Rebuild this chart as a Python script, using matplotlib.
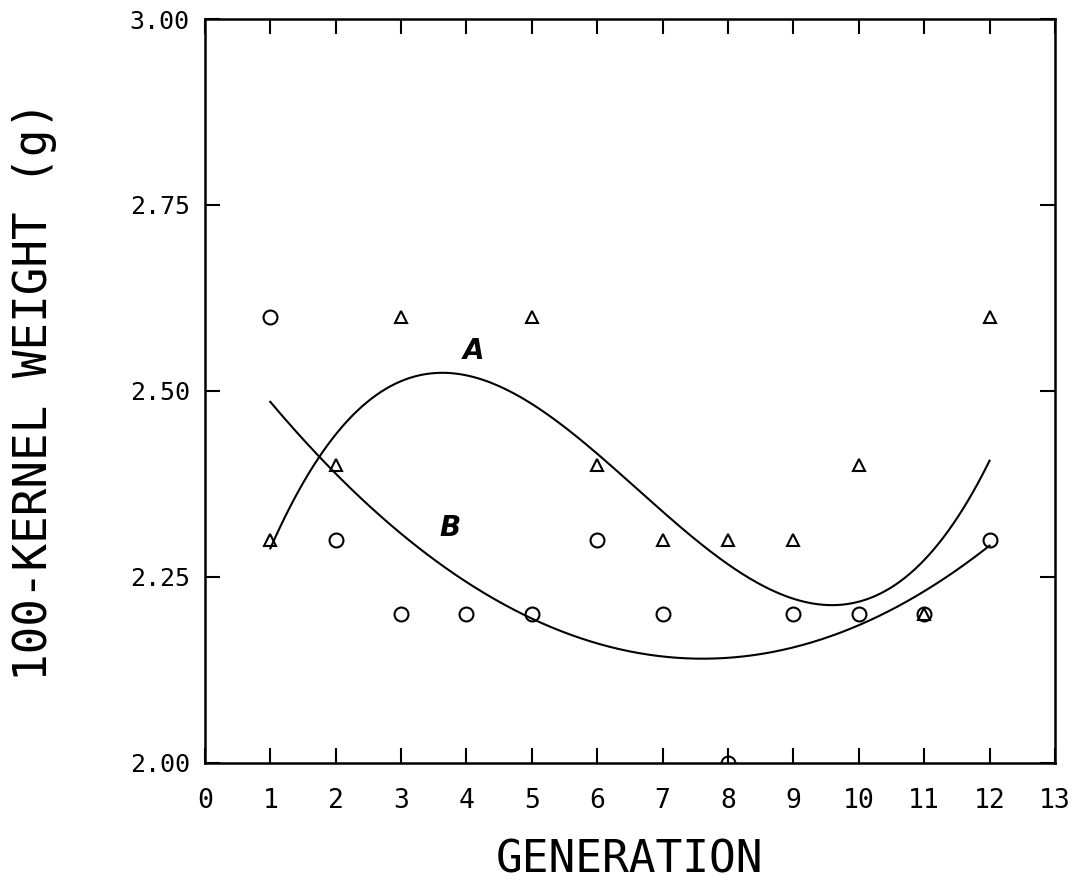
import numpy as np
import matplotlib.pyplot as plt

plt.rcParams['font.family'] = ['DejaVu Sans Mono']

# observed points (gen 8 circle sits on the 2.00 axis and gets clipped)
gen_tri = [1, 2, 3, 5, 6, 7, 8, 9, 10, 11, 12]
wt_tri = [2.30, 2.40, 2.60, 2.60, 2.40, 2.30, 2.30, 2.30, 2.40, 2.20, 2.60]
gen_circ = [1, 2, 3, 4, 5, 6, 7, 8, 9, 10, 11, 12]
wt_circ = [2.60, 2.30, 2.20, 2.20, 2.20, 2.30, 2.20, 2.00, 2.20, 2.20, 2.20, 2.30]

# fitted curves, values
curve_a_x = [1.02, 1.73, 2.32, 2.98, 3.67, 4.51, 5.28, 6.04, 6.80, 7.06, 8.08, 8.84, 9.61, 10.37, 11.14, 11.65, 12.0]
curve_a_y = [2.297, 2.407, 2.470, 2.510, 2.521, 2.508, 2.470, 2.412, 2.351, 2.336, 2.264, 2.228, 2.216, 2.228, 2.273, 2.340, 2.423]
curve_b_x = [1.01, 1.73, 2.98, 4.00, 5.02, 5.33, 6.04, 7.06, 7.72, 8.59, 9.61, 10.63, 11.39, 12.0]
curve_b_y = [2.483, 2.410, 2.309, 2.250, 2.201, 2.181, 2.159, 2.141, 2.136, 2.141, 2.168, 2.217, 2.259, 2.289]

x_ticks = list(range(0, 14))
y_ticks = [2.00, 2.25, 2.50, 2.75, 3.00]
y_labels = ['2.00', '2.25', '2.50', '2.75', '3.00']

fig = plt.figure(figsize=(10.77, 8.88), dpi=100)
ax = fig.add_axes([0.1903, 0.1408, 0.7892, 0.8378])

# smooth regression lines (cubic for A, quadratic for B)
xa = np.linspace(1, 12, 300)
ca = np.polyfit(curve_a_x, curve_a_y, 3)
ax.plot(xa, np.polyval(ca, xa), color='black', lw=1.5)
cb = np.polyfit(curve_b_x, curve_b_y, 2)
ax.plot(xa, np.polyval(cb, xa), color='black', lw=1.5)

ax.plot(gen_tri, wt_tri, linestyle='none', marker='^', ms=9, mfc='none', mec='black', mew=1.5)
ax.plot(gen_circ, wt_circ, linestyle='none', marker='o', ms=10, mfc='none', mec='black', mew=1.5)

ax.text(4.11, 2.554, 'A', fontsize=20, style='italic', fontweight='bold',
        family='DejaVu Sans', ha='center', va='center')
ax.text(3.75, 2.316, 'B', fontsize=20, style='italic', fontweight='bold',
        family='DejaVu Sans', ha='center', va='center')

ax.set_xlim(0, 13)
ax.set_ylim(2.0, 3.0)
ax.set_xticks(x_ticks)
ax.set_xticklabels([str(t) for t in x_ticks])
ax.set_yticks(y_ticks)
ax.set_yticklabels(y_labels)

ax.tick_params(direction='in', length=11, width=1.5, top=True, right=True, labelsize=19)
ax.tick_params(axis='x', pad=18)
ax.tick_params(axis='y', pad=11, labelsize=18)
for s in ax.spines.values():
    s.set_linewidth(1.8)

ax.set_xlabel('GENERATION', fontsize=32, labelpad=18)
ax.set_ylabel('100-KERNEL WEIGHT (g)', fontsize=33, labelpad=52)

fig.savefig('out.png', dpi=100)
